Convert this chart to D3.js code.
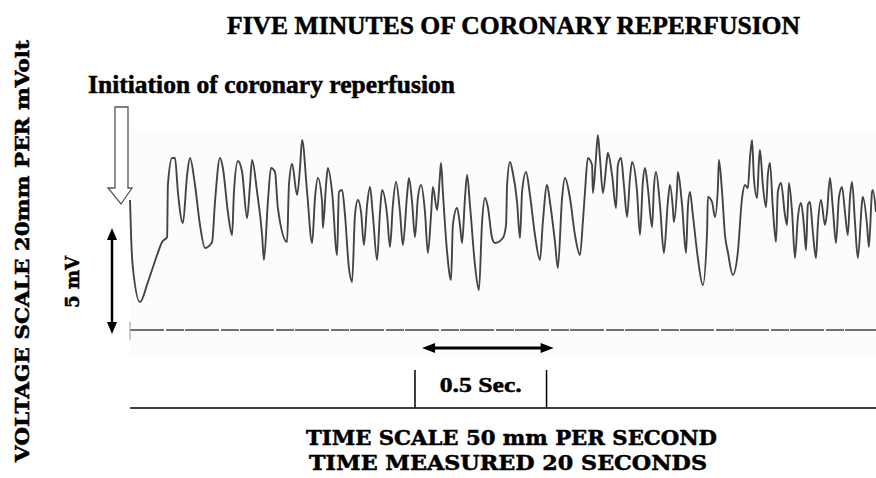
<!DOCTYPE html>
<html lang="en">
  <head>
    <meta charset="utf-8">
    <title>coronary reperfusion</title>
    <style>
      body { margin: 0; background: #fff; }
      text { font-weight: bold; fill: #000; stroke: #000; stroke-width: 0.5px; }
    </style>
  </head>
  <body>
    <div id="my_dataviz"></div>
    <script src="https://d3js.org/d3.v7.min.js"></script>
    <script>

    // trace: time (ms from reperfusion) and voltage (mV above baseline)
    var traceTimeMs = [0, 4, 11, 38, 68, 103, 122, 141, 144, 160, 171, 182, 201, 217, 228, 247, 266, 285, 312, 323,
      342, 353, 372, 388, 395, 410, 426, 445, 456, 464, 483, 502, 509, 524, 536, 551, 562, 597, 604, 616,
      635, 646, 654, 673, 692, 703, 714, 730, 733, 745, 752, 768, 787, 794, 806, 817, 832, 844, 855, 866,
      878, 889, 901, 912, 923, 939, 950, 958, 977, 988, 999, 1011, 1026, 1037, 1053, 1060, 1072, 1083, 1094, 1106,
      1121, 1132, 1144, 1151, 1167, 1178, 1182, 1189, 1205, 1220, 1227, 1243, 1254, 1262, 1273, 1281, 1292, 1311, 1326, 1338,
      1349, 1360, 1376, 1387, 1417, 1429, 1433, 1444, 1455, 1471, 1482, 1490, 1505, 1520, 1539, 1558, 1569, 1585, 1596, 1615,
      1626, 1642, 1653, 1672, 1691, 1710, 1721, 1729, 1740, 1756, 1759, 1771, 1778, 1786, 1797, 1813, 1816, 1832, 1847, 1854,
      1866, 1877, 1889, 1900, 1908, 1927, 1938, 1949, 1957, 1968, 1984, 1991, 1999, 2014, 2029, 2044, 2052, 2063, 2067, 2079,
      2082, 2098, 2113, 2120, 2128, 2139, 2158, 2177, 2193, 2196, 2212, 2223, 2234, 2238, 2250, 2261, 2272, 2291, 2310, 2326,
      2337, 2348, 2356, 2364, 2371, 2383, 2390, 2394, 2405, 2417, 2424, 2432, 2443, 2455, 2462, 2474, 2489, 2497, 2504, 2516,
      2527, 2538, 2550, 2561, 2569, 2576, 2584, 2595, 2607, 2614, 2626, 2641, 2649, 2660, 2671, 2683, 2694, 2706, 2717, 2728,
      2736, 2744, 2755, 2766, 2782, 2785, 2801, 2808, 2820, 2823, 2835];

    var traceMilliVolts = [6.5, 4.75, 3.1, 1.4, 2.4, 3.75, 4.4, 4.65, 7.25, 8.6, 8.6, 6.9, 5.35, 7.75, 8.6, 7.25, 5.25, 4.1, 4.4, 6.4,
      8.6, 8.1, 5.9, 4.75, 6.9, 8.45, 7.9, 5.6, 7.25, 8.5, 6.9, 4.75, 3.5, 6.4, 8.1, 7.9, 6.1, 4.4, 7.25, 8.3,
      6.75, 8.1, 9.5, 6.9, 4.35, 6.6, 7.6, 6.4, 5.1, 7.25, 8.1, 6.9, 3.75, 6.9, 7.0, 5.75, 3.1, 2.4, 5.75, 6.5,
      5.9, 4.25, 6.25, 7.15, 5.75, 3.5, 5.9, 7.0, 5.75, 4.15, 6.25, 7.4, 5.9, 4.25, 6.75, 7.6, 6.4, 4.65, 6.6, 7.25,
      5.9, 3.85, 5.75, 7.15, 6.0, 7.75, 8.35, 6.9, 3.9, 2.5, 5.25, 6.1, 5.25, 4.35, 6.6, 7.75, 6.25, 3.25, 2.0, 5.4,
      6.6, 6.15, 4.6, 4.35, 4.6, 5.25, 7.25, 8.4, 7.85, 6.4, 4.6, 6.9, 7.9, 6.75, 4.75, 3.5, 5.4, 7.25, 6.4, 4.4,
      3.1, 6.6, 7.6, 6.6, 4.75, 3.75, 5.4, 6.9, 8.6, 8.25, 6.85, 8.65, 9.75, 8.6, 6.85, 8.6, 8.85, 7.75, 6.1, 8.25,
      8.6, 7.25, 5.65, 7.6, 8.4, 6.9, 4.75, 7.4, 8.1, 7.1, 5.15, 7.1, 7.9, 6.25, 3.85, 6.4, 7.25, 6.1, 5.4, 7.1,
      7.9, 6.25, 3.85, 6.1, 6.9, 5.75, 3.6, 2.25, 4.9, 6.65, 6.4, 5.65, 7.1, 8.5, 6.9, 4.75, 3.9, 2.75, 3.9, 6.6,
      7.25, 7.1, 8.6, 9.5, 7.6, 6.6, 8.4, 9.0, 7.25, 6.15, 7.75, 8.35, 6.1, 4.4, 6.9, 7.35, 5.75, 5.25, 7.35, 5.9,
      3.6, 5.6, 6.35, 5.25, 4.0, 6.25, 6.4, 4.9, 3.6, 5.25, 6.5, 5.25, 5.9, 7.6, 6.1, 4.35, 6.6, 7.15, 5.9, 4.75,
      6.6, 7.4, 5.4, 3.6, 6.4, 6.65, 5.25, 4.15, 6.9, 7.0, 5.9];

    // calibration marks
    var calibrationMv = 5;
    var calibrationSec = 0.5;
    var bracketStartMs = 1083;
    var arrowStartMs = 1110;

    // texts
    var titleText = "FIVE MINUTES OF CORONARY REPERFUSION";
    var markerText = "Initiation of coronary reperfusion";
    var yLabelText = "VOLTAGE SCALE 20mm PER mVolt";
    var xLabelLines = ["TIME SCALE 50 mm PER SECOND", "TIME MEASURED 20 SECONDS"];

    var width = 876, height = 478;

    var svg = d3.select("#my_dataviz")
      .append("svg")
        .attr("width", width)
        .attr("height", height);

    // scales: 0.5 s is about 131 px, 1 mV is 20 px
    var x = d3.scaleLinear()
      .domain([0, 2835])
      .range([130, 876]);

    var y = d3.scaleLinear()
      .domain([0, 10])
      .range([330, 130]);

    // faint paper area behind the strip
    svg.append("rect")
      .attr("x", x(0))
      .attr("y", 130)
      .attr("width", x(2835) - x(0))
      .attr("height", 227)
      .attr("fill", "#fcfcfc");

    // isoelectric baseline
    svg.append("line")
      .attr("x1", x(0)).attr("x2", x(2835))
      .attr("y1", y(0)).attr("y2", y(0))
      .attr("stroke", "#444")
      .attr("stroke-width", 1.5)
      .attr("stroke-dasharray", "34,2,18,1");

    svg.append("line")
      .attr("x1", x(0)).attr("x2", x(0))
      .attr("y1", y(0) - 8).attr("y2", y(0) + 10)
      .attr("stroke", "#999")
      .attr("stroke-width", 1);

    // the trace
    var points = traceTimeMs.map(function(t, i){ return [t, traceMilliVolts[i]] });

    var line = d3.line()
      .curve(d3.curveMonotoneX)
      .x(function(d){ return x(d[0]) })
      .y(function(d){ return y(d[1]) });

    svg.append("path")
      .datum(points)
      .attr("d", line)
      .attr("fill", "none")
      .attr("stroke", "#444")
      .attr("stroke-width", 1.9)
      .attr("stroke-linejoin", "round");

    // hollow arrow marking start of reperfusion
    svg.append("path")
      .attr("d", "M115,107 L128,107 L128,188 L132,188 L121,204 L108,188 L115,188 Z")
      .attr("fill", "#fff")
      .attr("stroke", "#555")
      .attr("stroke-width", 1.3);

    // 5 mV calibration arrow
    var ax = 112, aTop = y(calibrationMv) - 2, aBot = y(0) + 4;
    svg.append("line")
      .attr("x1", ax).attr("x2", ax)
      .attr("y1", aTop + 8).attr("y2", aBot - 8)
      .attr("stroke", "#000")
      .attr("stroke-width", 2.5);
    svg.append("path")
      .attr("d", "M" + ax + "," + aTop + " L" + (ax - 5) + "," + (aTop + 12) + " L" + (ax + 5) + "," + (aTop + 12) + " Z")
      .attr("fill", "#000");
    svg.append("path")
      .attr("d", "M" + ax + "," + aBot + " L" + (ax - 5) + "," + (aBot - 12) + " L" + (ax + 5) + "," + (aBot - 12) + " Z")
      .attr("fill", "#000");

    // 0.5 s arrow
    var hx1 = x(arrowStartMs), hx2 = x(arrowStartMs + calibrationSec * 1000), hy = 348;
    svg.append("line")
      .attr("x1", hx1 + 8).attr("x2", hx2 - 8)
      .attr("y1", hy).attr("y2", hy)
      .attr("stroke", "#000")
      .attr("stroke-width", 3);
    svg.append("path")
      .attr("d", "M" + hx1 + "," + hy + " L" + (hx1 + 13) + "," + (hy - 5) + " L" + (hx1 + 13) + "," + (hy + 5) + " Z")
      .attr("fill", "#000");
    svg.append("path")
      .attr("d", "M" + hx2 + "," + hy + " L" + (hx2 - 13) + "," + (hy - 5) + " L" + (hx2 - 13) + "," + (hy + 5) + " Z")
      .attr("fill", "#000");

    // time line with 0.5 s bracket
    svg.append("line")
      .attr("x1", x(0)).attr("x2", x(2835))
      .attr("y1", 408).attr("y2", 408)
      .attr("stroke", "#000")
      .attr("stroke-width", 1.5);

    svg.selectAll("bracket")
      .data([bracketStartMs, bracketStartMs + calibrationSec * 1000])
      .enter()
      .append("line")
        .attr("x1", function(d){ return x(d) })
        .attr("x2", function(d){ return x(d) })
        .attr("y1", 370).attr("y2", 408)
        .attr("stroke", "#000")
        .attr("stroke-width", 1.5);

    svg.append("text")
      .attr("x", x(bracketStartMs + calibrationSec * 500))
      .attr("y", 392)
      .attr("text-anchor", "middle")
      .attr("font-family", "Liberation Serif")
      .attr("font-size", "22px")
      .attr("textLength", 82)
      .attr("lengthAdjust", "spacingAndGlyphs")
      .text(calibrationSec + " Sec.");

    // title and marker label
    svg.append("text")
      .attr("x", 227)
      .attr("y", 34)
      .attr("font-family", "Liberation Serif")
      .attr("font-size", "25px")
      .attr("textLength", 573)
      .attr("lengthAdjust", "spacingAndGlyphs")
      .text(titleText);

    svg.append("text")
      .attr("x", 88)
      .attr("y", 93)
      .attr("font-family", "Liberation Serif")
      .attr("font-size", "25px")
      .attr("textLength", 367)
      .attr("lengthAdjust", "spacingAndGlyphs")
      .text(markerText);

    // vertical labels
    svg.append("text")
      .attr("transform", "translate(29,462) rotate(-90)")
      .attr("font-family", "DejaVu Serif")
      .attr("font-size", "18px")
      .attr("textLength", 422)
      .attr("lengthAdjust", "spacingAndGlyphs")
      .text(yLabelText);

    svg.append("text")
      .attr("transform", "translate(79,282) rotate(-90)")
      .attr("text-anchor", "middle")
      .attr("font-family", "DejaVu Serif")
      .attr("font-size", "18px")
      .text(calibrationMv + " mV");

    // time labels
    svg.selectAll("xlab")
      .data(xLabelLines)
      .enter()
      .append("text")
        .attr("x", function(d, i){ return i == 0 ? 306 : 309 })
        .attr("y", function(d, i){ return 445 + i * 25 })
        .attr("font-family", "DejaVu Serif")
        .attr("font-size", "20px")
        .attr("textLength", function(d, i){ return i == 0 ? 411 : 398 })
        .attr("lengthAdjust", "spacingAndGlyphs")
        .text(function(d){ return d });

    </script>
  </body>
</html>
